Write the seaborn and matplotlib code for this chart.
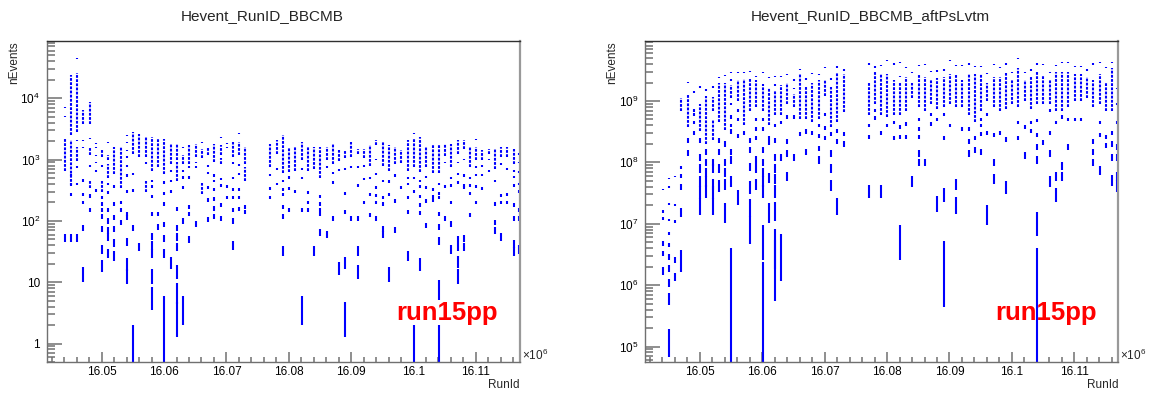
import numpy as np
import matplotlib
matplotlib.use("Agg")
import matplotlib.pyplot as plt
import seaborn as sns
from matplotlib.ticker import MultipleLocator, LogLocator, FuncFormatter, NullFormatter

# ---------------- data ----------------
# columns = run days (RunId = 16,000,000 + day*1000 + seq)
days = [44, 45, 46, 47, 48, 49, 50, 51, 52, 53, 54, 55, 56, 57, 58, 59, 60, 61, 62, 63,
        64, 65, 66, 67, 68, 69, 70, 71, 72, 73, 77, 78, 79, 80, 81, 82, 83, 84, 85, 86,
        87, 88, 89, 90, 91, 92, 93, 94, 95, 96, 97, 98, 99, 100, 101, 102, 103, 104, 105,
        106, 107, 108, 109, 110, 111, 112, 113, 114, 115, 116, 116.8]

# ---- left panel: Hevent_RunID_BBCMB ----
L_bands = [[(640, 2150)], [(2480, 23800), (375, 2050)], [(2810, 25400), (963, 1590)], [(3840, 6360)],
           [(3840, 8700), (1170, 1590), (350, 453)], [], [(1090, 1500), (300, 450)], [(1000, 1200), (510, 850)],
           [(580, 1590)], [(350, 1590)], [], [(1240, 2810)], [(1090, 2650)], [(1090, 2320), (300, 450)],
           [(650, 2320)], [(750, 2150)], [(580, 2150)], [(850, 1810)], [(1000, 1810), (450, 900)], [(850, 1200)],
           [(850, 1700)], [(1090, 1810)], [(1070, 1500), (270, 420)], [(1170, 1590)], [(900, 1810)],
           [(1170, 1700), (850, 1050)], [], [(1090, 1930)], [(1170, 1930)], [(850, 1590), (450, 750)],
           [(750, 1810)], [(1240, 2050)], [(600, 2480)], [(620, 1600)], [(660, 1600)], [(1000, 1930)],
           [(660, 1600)], [(700, 1600)], [(510, 1600)], [(1000, 1600)], [(850, 1800)], [(960, 1410)],
           [(1050, 1410)], [(1100, 1930)], [(1240, 1500)], [(1050, 1500)], [(800, 1700)], [(1700, 2100)],
           [(800, 1930)], [(640, 1700)], [(850, 1600)], [(870, 1410)], [(660, 2050)], [(750, 2200)],
           [(620, 2300)], [(750, 1590)], [(600, 1800)], [(600, 1700)], [(1150, 1800)], [(750, 1800)],
           [(1240, 2050)], [(1500, 2050)], [(750, 1600)], [(1000, 1600)], [(1000, 1410)], [(1250, 1500)],
           [(700, 1500)], [(1100, 1600)], [(1100, 1600)], [(850, 1500)], []]
L_runs = [[15300, 7000, 5000, 53], [560, 400, 274, 53], [44700, 2050, 749, 399, 53],
          [2050, 1590, 453, 274, 200, 78, 14], [2200, 800, 255, 150], [1810, 1590, 1160, 900, 660, 311],
          [800, 240, 190, 150, 120, 75, 35, 19], [1930, 400, 290, 150, 100, 70, 55, 30],
          [370, 190, 115, 75, 44, 27], [200, 150, 95], [2480, 1900, 1400, 1100, 800, 550, 300, 130, 113, 45, 20, 13],
          [580, 311, 78, 1], [38], [870], [450, 370, 250, 130, 57, 40, 30, 13, 6], [130, 80],
          [420, 280, 190, 88, 52, 30, 4, 1], [650, 450, 300, 21], [155, 78, 55, 38, 15, 7, 3],
          [1590, 650, 514, 352, 100, 4], [750, 514, 170, 130, 50], [900, 750, 90], [1930],
          [780, 600, 350, 220, 105], [550, 450, 330, 230, 160, 120], [2300, 480, 380, 180, 110],
          [1810, 1590, 370, 240], [870, 500, 330, 240, 150, 100, 40], [2650, 820, 580, 330, 240, 155],
          [170, 140], [560, 340, 240], [700, 400], [450, 320, 270, 170, 120, 33], [510, 340, 150], [300],
          [700, 500, 150, 4], [290, 200, 150], [33], [250, 190, 150, 130, 65], [750, 60], [600, 420, 110],
          [680, 17], [700, 280, 140, 21, 3], [750, 110], [750, 380, 110, 33, 15], [800, 480, 200],
          [500, 270, 125], [1000, 580, 350, 260, 200, 110], [450, 240, 190, 75, 60], [440, 270, 14],
          [550, 210, 72], [350], [500, 400, 240, 140, 27], [2650, 500, 300, 1], [450, 370, 250, 180, 135, 20],
          [520, 350, 210, 85], [330, 250, 220], [400, 280, 240, 130, 80, 47, 8, 1], [900, 360, 110],
          [500, 380, 200, 90, 35], [900, 580, 420, 50, 38, 22, 13], [1000, 550, 380, 350, 52, 38],
          [500, 380, 280, 125], [2150, 750, 560, 360, 200], [780, 560, 340], [1000, 650], [450, 190, 95, 70],
          [850, 260, 200, 55], [700, 270, 200], [650, 520, 380, 180, 110, 42, 32],
          [1240, 900, 620, 400, 300, 150, 110, 35]]
L_weight = [1] * len(days)

# ---- right panel: Hevent_RunID_BBCMB_aftPsLvtm ----
R_bands = [[], [], [], [(7e8, 1.1e9)], [(3.8e8, 1.25e9)], [], [(3.3e8, 9e8)], [(2e8, 1.2e9)],
           [(7e8, 1.15e9), (2.3e8, 4.9e8)], [(4.5e8, 2e9)], [(3.4e8, 2e9)], [(1.1e9, 1.8e9)], [(1e9, 2.2e9)],
           [(4e8, 2.3e9)], [(7e8, 2.4e9)], [(8e8, 2.2e9)], [(7e8, 1.9e9)], [(4e8, 1.6e9)], [(6e8, 1.5e9)],
           [(6e8, 1.8e9)], [(9e8, 2e9)], [(8e8, 1.3e9)], [(5e8, 2.8e9)], [(5e8, 1.7e9)], [(4.5e8, 2e9)],
           [(5e8, 2.2e9)], [(1.2e9, 2.2e9)], [(3.8e8, 1.7e9)], [(4.5e8, 3e9)], [(6.5e8, 2.8e9)],
           [(6e8, 2e9)], [(9e8, 3e9)], [(6e8, 2.8e9)], [(5.5e8, 2.8e9)], [(6e8, 2.2e9)], [(6e8, 2e9)],
           [(7e8, 2.5e9)], [(1.1e9, 2e9)], [(8e8, 2.8e9)], [(7e8, 2.5e9)], [(9e8, 2.3e9)], [(7.5e8, 2.4e9)],
           [(8e8, 2.5e9)], [(9e8, 2.8e9)], [(8e8, 2.8e9)], [(8e8, 2.2e9)], [(6e8, 2.8e9)], [(4.5e8, 2.8e9)],
           [(7e8, 2.8e9)], [(1e9, 2e9)], [(8e8, 2.5e9)], [(7e8, 2.5e9)], [(7.5e8, 2.9e9)], [(9e8, 2.3e9)],
           [(8e8, 3.5e9)], [(1e9, 2.2e9)], [(7.5e8, 2.5e9)], [(9e8, 3e9)], [(9e8, 2.6e9)], [(9e8, 2.2e9)],
           [(7e8, 3e9)], [(7e8, 3e9)], [(8e8, 3e9)], [(1e9, 2.8e9)], [(1e9, 2.8e9)], [(1.1e9, 2.5e9)],
           [(8e8, 2.2e9)], [(9e8, 2.8e9)], [(7e8, 2e9)], [(7e8, 3.5e9)], []]
R_runs = [[3.6e7, 1.6e7, 1.2e7, 4.8e6, 3.3e6, 1.7e6],
          [5.5e7, 4e7, 2.1e7, 1.15e7, 6.9e6, 4.5e6, 2.9e6, 1.9e6, 1.1e6, 6.2e5, 1.3e5],
          [5.9e7, 2e7, 1.1e7, 2.6e6, 1.35e6], [8.3e7, 6e7, 4e7, 1.55e7, 2.7e6], [2e9, 2.3e8, 1.45e8],
          [1.4e9, 7e8, 6e8, 4.5e8, 3e8], [1.7e9, 2.3e8, 1.2e8, 8e7, 5e7, 3.3e7, 2e7],
          [1.5e9, 1.5e8, 1e8, 7e7, 5e7, 3.5e7], [1.7e9, 1e8, 8e7, 4.5e7, 3.3e7, 2e7],
          [2.4e9, 2.3e8, 1.5e8, 8e7, 4.2e7], [2.6e9, 2e8, 1e8, 7e7, 4.5e7, 1.6e7],
          [2.9e9, 2.2e9, 9e8, 5.5e8, 4e8, 3.2e8, 1.5e8, 1.1e8, 5e7, 2e6], [2.9e9, 7e8, 5e8, 2.7e8, 2.8e7],
          [2.9e9, 3e8], [3e9, 2.3e8, 1.6e8, 8.5e7, 4e7, 1.9e7, 9e6], [2.5e9, 5e8, 3.5e8, 2.5e8, 1.1e8, 8e7, 4.5e7],
          [2.9e9, 5e8, 3.5e8, 1.6e8, 1e8, 7e7, 5e7, 3.5e7, 6e6, 1e6], [2.4e9, 2.5e8, 2.1e8, 5.7e7, 1.6e7],
          [2.5e9, 1.8e9, 4e8, 2.3e8, 1.2e8, 8e7, 5.5e7, 3.5e7, 1.7e7, 5e6, 3e6], [2.5e9, 4.5e8, 1.2e8, 4e6],
          [2.7e9, 5.5e8, 2.2e8, 1.4e8, 6e7], [2.2e9, 1.6e9, 5.5e8, 1.2e8], [3.3e9, 2.9e8], [2.3e9, 3.2e8, 1.5e8],
          [2.8e9, 3e8], [2.7e9, 4e8, 2.7e8, 1.7e8, 1.1e8], [3.5e9, 6e8, 3.6e8, 2.5e8],
          [2.3e9, 2.9e8, 1.4e8, 8e7, 4.3e7], [3.6e9, 3.3e8, 2.2e8, 2e7], [3.2e9, 2.9e8, 2e8],
          [4e9, 4e8, 2.6e8, 3.5e7], [3.6e9, 7e8, 5.3e8], [3.8e9, 3e8, 3.5e7], [4.5e9, 4e8], [4e9, 4.5e8, 2.5e8],
          [4.3e9, 2.5e9, 3.8e8, 2.6e8, 6e6], [3.5e9, 4.2e8, 2.6e8], [2.9e9, 5e7],
          [3.8e9, 5e8, 3.5e8, 2.6e8, 1.4e8, 1e8], [3.9e9, 1e8], [3e9, 6e8, 4.2e8], [3.1e9, 5e8, 2.2e7],
          [3.2e9, 6e8, 2.5e8, 3e7, 2.8e6], [4.6e9, 4e8], [3.8e9, 4.5e7, 2.1e7], [3.8e9, 3.5e8],
          [4e9, 3.5e8, 2.2e8, 1.4e8], [3.7e9, 2.5e8, 1.6e8], [3.7e9, 5e8, 4e8, 2.9e8, 1.5e8],
          [2.8e9, 6e8, 3e8, 1.5e7], [3.9e9, 2.8e8, 1e8, 5.5e7], [3.5e9, 3e8], [4e9, 2.4e8, 4e7], [2.9e9],
          [5e9, 4.5e8, 2.5e8], [2.9e9, 3.8e8, 1.3e8], [3.2e9, 4.5e8, 3.3e8],
          [4e9, 4.8e8, 2.8e8, 1.8e8, 1.1e8, 1.1e7, 2e6], [3.9e9, 2.1e8], [2.9e9, 7e8, 3e8, 1.4e8, 5e7],
          [3.8e9, 4.5e8, 6e7, 3e7], [4.2e9, 5.5e8, 9e7, 6e7], [4.3e9, 5e8, 1.8e8], [3.7e9, 5e8], [3.7e9, 5e8],
          [3.2e9], [4e9, 2.2e8, 1.5e8, 1e8], [4.3e9, 4.5e8, 2.8e8, 7.5e7], [3.5e9, 2.6e8, 1.9e8],
          [4.3e9, 3e8, 2e8, 1.2e8, 5.2e7], [1.6e9, 9e8, 4.5e8, 1.8e8, 1.2e8, 6e7, 4.2e7]]
# per-run event weight (prescale) -> error = sqrt(value * weight)
R_weight = [3.6e4, 3e4, 3e4, 4e5] + [2e6] * (len(days) - 4)

titles = ["Hevent_RunID_BBCMB", "Hevent_RunID_BBCMB_aftPsLvtm"]
ylims = [(0.5, 8.6e4), (5.6e4, 9.5e9)]
xlim = (16041230, 16116990)

# ---------------- style ----------------
sns.set_theme(style="white")
plt.rcParams['font.family'] = ['Liberation Sans', 'DejaVu Sans']
plt.rcParams['mathtext.fontset'] = 'custom'
plt.rcParams['mathtext.rm'] = 'Liberation Sans'
plt.rcParams['mathtext.it'] = 'Liberation Sans:italic'
plt.rcParams['mathtext.bf'] = 'Liberation Sans:bold'
plt.rcParams['lines.scale_dashes'] = False
plt.rcParams['xtick.bottom'] = True
plt.rcParams['ytick.left'] = True

W, H = 1153, 394
fig = plt.figure(figsize=(W / 100, H / 100), dpi=100)
fig.patch.set_facecolor('white')
axL = fig.add_axes([47 / W, 1 - 362 / H, 472.5 / W, 321 / H])
axR = fig.add_axes([645 / W, 1 - 362 / H, 473 / W, 321 / H])


def run_x(d):
    return 16_000_000 + d * 1000 + 50


def draw(ax, bands, runs, weights, ylim):
    floor = ylim[0] * 0.3
    bx, blo, bhi = [], [], []
    for d, bl in zip(days, bands):
        for lo, hi in bl:
            bx.append(run_x(d)); blo.append(lo); bhi.append(hi)
    ax.vlines(bx, blo, bhi, colors='#0000ff', linewidth=1.5, linestyles=[(0, (2.0, 1.0))])
    rx, rlo, rhi = [], [], []
    for d, vals, w in zip(days, runs, weights):
        for v in vals:
            e = np.sqrt(v * w)
            rx.append(run_x(d)); rlo.append(max(v - e, floor)); rhi.append(max(v + e, v * 1.012))
    ax.vlines(rx, rlo, rhi, colors='#0000ff', linewidth=1.5)


def ylab(v, pos):
    if v <= 0:
        return ""
    n = int(round(np.log10(v)))
    if abs(v - 10 ** n) > 1e-6 * v:
        return ""
    if n == 0:
        return "1"
    if n == 1:
        return "10"
    return r"$10^{%d}$" % n


for i, (ax, bands, runs, wts) in enumerate([(axL, L_bands, L_runs, L_weight),
                                            (axR, R_bands, R_runs, R_weight)]):
    ax.set_facecolor('white')
    ax.set_yscale('log')
    draw(ax, bands, runs, wts, ylims[i])
    ax.set_xlim(*xlim)
    ax.set_ylim(*ylims[i])
    ax.grid(False)
    ax.xaxis.set_major_locator(MultipleLocator(10000))
    ax.xaxis.set_minor_locator(MultipleLocator(2000))
    ax.xaxis.set_major_formatter(FuncFormatter(lambda x, p: f"{x / 1e6:g}"))
    ax.yaxis.set_major_locator(LogLocator(base=10, numticks=20))
    ax.yaxis.set_minor_locator(LogLocator(base=10, subs=np.arange(2, 10), numticks=100))
    ax.yaxis.set_major_formatter(FuncFormatter(ylab))
    ax.yaxis.set_minor_formatter(NullFormatter())
    ax.tick_params(axis='x', which='major', direction='in', length=7, width=1.1, color='#707070',
                   labelsize=8.5, pad=3, top=False, bottom=True, labelcolor='black')
    ax.tick_params(axis='x', which='minor', direction='in', length=3.5, width=1.1, color='#707070',
                   top=False, bottom=True)
    ax.tick_params(axis='y', which='major', direction='in', length=11, width=1.1, color='#707070',
                   labelsize=8.5, pad=5, left=True, right=False, labelcolor='black')
    ax.tick_params(axis='y', which='minor', direction='in', length=5.5, width=1.1, color='#707070',
                   left=True, right=False)
    for s in ['left', 'bottom']:
        ax.spines[s].set_color('#707070'); ax.spines[s].set_linewidth(1.0)
    ax.spines['top'].set_color('#303030'); ax.spines['top'].set_linewidth(1.0)
    ax.spines['right'].set_color('#999999'); ax.spines['right'].set_linewidth(1.6)
    for s in ax.spines.values():
        s.set_visible(True)
    ax.text(0.74, 0.131, 'run15pp', transform=ax.transAxes, color='#ff0000', fontsize=18.5,
            fontweight='bold', ha='left', va='baseline')

# axis titles and extra labels
for ax_left, ax_right in [(47, 519.5), (645, 1118)]:
    fig.text((ax_left - 33) / W, 1 - 41 / H, 'nEvents', rotation=90, ha='center', va='top', fontsize=8.5)
    fig.text(ax_right / W, 1 - 385 / H, 'RunId', ha='right', va='center', fontsize=8.5)
    fig.text((ax_right + 2) / W, 1 - 355 / H, r'$\times10^{6}$', ha='left', va='center', fontsize=8.5)
fig.text(262 / W, 1 - 16 / H, titles[0], ha='center', va='center', fontsize=11)
fig.text(870 / W, 1 - 16 / H, titles[1], ha='center', va='center', fontsize=11)

fig.savefig('out.png', dpi=100, facecolor='white')
